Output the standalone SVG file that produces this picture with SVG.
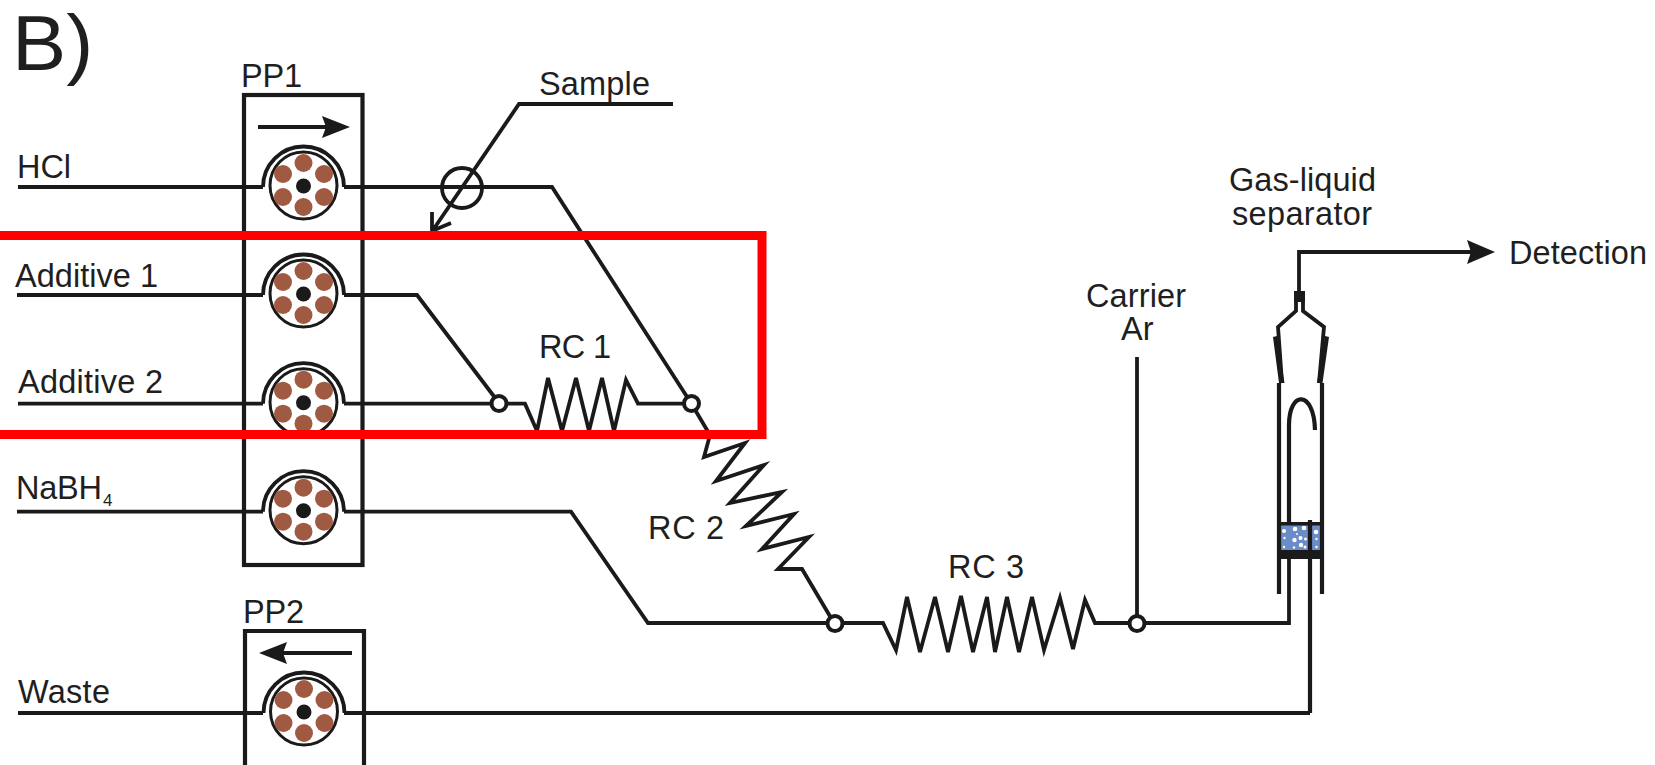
<svg xmlns="http://www.w3.org/2000/svg" xmlns:xlink="http://www.w3.org/1999/xlink" width="1655" height="765" viewBox="0 0 1655 765">
<style>
text{font-family:"Liberation Sans",Arial,sans-serif;font-size:32.500px;fill:#1f1f1f}
.ln{fill:none;stroke:#1a1a1a;stroke-width:3.800;stroke-linejoin:miter;stroke-linecap:butt}
.wall{fill:none;stroke:#1a1a1a;stroke-width:4.200}
.sq{fill:#1a1a1a}
.nd{fill:#fff;stroke:#1a1a1a;stroke-width:4}
.ro{fill:#a05a42}
.bb{fill:#fff}
</style>
<defs>
<g id="pump">
<path class="ln" d="M-40.500 0A40.500 40.500 0 0 1 40.500 0"/>
<circle cx="0" cy="-1.500" r="33.500" fill="#fff" stroke="#1a1a1a" stroke-width="3"/>
<circle class="ro" cx="0" cy="-24" r="9"/>
<circle class="ro" cx="-20.500" cy="-13" r="9"/>
<circle class="ro" cx="20.500" cy="-13" r="9"/>
<circle class="ro" cx="-20.500" cy="10" r="9"/>
<circle class="ro" cx="20.500" cy="10" r="9"/>
<circle class="ro" cx="0" cy="20" r="9"/>
<circle class="sq" cx="0" cy="-1" r="7.500"/>
</g>
</defs>
<rect width="1655" height="765" fill="#fff"/>

<g id="connectors">
<path class="ln" d="M18 187H263M344 187H552L691 403"/>
<path class="ln" d="M17 295H263M344 295H417L499 403"/>
<path class="ln" d="M18 403.700H263M344 403.700H525L537 431L548 378L562 431L576 378L589 431L602 378L614 431L626 380L638 403.700H691"/>
<path class="ln" d="M691 403L710 435L704 457L745 443L716 481L764 465L730 503L782 492L746 526L794 514L762 549L809 537L778 569H802L834 623"/>
<path class="ln" d="M17 511.700H263M344 511.700H571L648 623H883L896 650L907 597L920 652L935 597L948 652L961 596L973 652L987 597L995 652L1007 597L1019 652L1032 597L1044 650L1060 598L1073 649L1085 600L1095 623H1289V559"/>
<path class="ln" d="M1137 357V623"/>
<path class="ln" d="M18 713H263M344 713H1310"/>
<path class="ln" d="M673 104H519L433 230M432 212L432 231L451 223"/>
<circle class="ln" cx="462" cy="188" r="20"/>
<path class="ln" d="M1299 291V252H1472"/>
<path class="sq" d="M1495 252L1467 240L1471 252L1467 264Z"/>
</g>

<g id="junctions">
<circle class="nd" cx="499" cy="403.500" r="7.500"/>
<circle class="nd" cx="691.500" cy="403.500" r="7.500"/>
<circle class="nd" cx="835" cy="623.500" r="7.500"/>
<circle class="nd" cx="1137" cy="623.500" r="7.500"/>
</g>

<g id="pp1">
<rect class="wall" x="244" y="95" width="118.500" height="470"/>
<path class="ln" d="M258 127H326"/>
<path class="sq" d="M350 127L322 116L326 127L322 138Z"/>
<text x="241" y="87" textLength="61">PP1</text>
<use xlink:href="#pump" href="#pump" x="303.500" y="187"/>
<use xlink:href="#pump" href="#pump" x="303.500" y="295"/>
<use xlink:href="#pump" href="#pump" x="303.500" y="403.700"/>
<use xlink:href="#pump" href="#pump" x="303.500" y="511.700"/>
</g>

<g id="pp2">
<path class="wall" d="M245 765V631H364V765"/>
<path class="ln" d="M352 653H283"/>
<path class="sq" d="M259 653L287 642L283 653L287 664Z"/>
<text x="243" y="623" textLength="61">PP2</text>
<use xlink:href="#pump" href="#pump" x="304" y="713"/>
</g>

<g id="separator">
<rect x="1279" y="524" width="42" height="27" fill="#6a8cc8"/>
<g class="bb">
<circle cx="1284" cy="531" r="2"/><circle cx="1284.500" cy="538" r="1.200"/><circle cx="1284" cy="547" r="1.200"/>
<circle cx="1295" cy="529" r="2.300"/><circle cx="1304" cy="528" r="2.300"/><circle cx="1297" cy="534" r="1"/><circle cx="1300.500" cy="538" r="2"/><circle cx="1305.500" cy="539" r="1.500"/><circle cx="1294.500" cy="540" r="2.200"/><circle cx="1301" cy="545" r="2.200"/><circle cx="1305" cy="547" r="1.500"/><circle cx="1294" cy="547.500" r="1.200"/>
<circle cx="1316" cy="532" r="2.300"/><circle cx="1316.500" cy="539" r="1.200"/><circle cx="1316.500" cy="547" r="1.200"/>
</g>
<path class="wall" d="M1279 594V383M1322 594V383"/>
<path class="wall" d="M1289 522V425C1289 390 1314 390 1315 430M1310 520V713"/>
<rect class="sq" x="1277" y="522" width="47" height="3.500"/>
<rect class="sq" x="1277" y="550" width="47" height="9"/>
<path class="sq" d="M1294 291H1305V302H1294Z"/>
<path class="ln" d="M1296 300V311L1278 327L1282 383M1303 300V311L1324 327L1319 383"/>
<path class="sq" d="M1273 337L1277 336L1284.500 383H1279ZM1329 337L1325 336L1317 383H1322.500Z"/>
</g>

<g id="labels">
<text transform="translate(12 69.500) scale(1.070 1.020)" x="0" y="0" style="font-size:76px">B)</text>
<text x="17" y="178" textLength="54">HCl</text>
<text x="15" y="287" textLength="143">Additive 1</text>
<text x="18" y="393" textLength="145">Additive 2</text>
<text x="16" y="499" textLength="86">NaBH</text>
<text x="103" y="506" style="font-size:17px">4</text>
<text x="18" y="703" textLength="92">Waste</text>
<text x="539" y="95" textLength="111">Sample</text>
<text x="539" y="358" textLength="72">RC 1</text>
<text x="648" y="539" textLength="76">RC 2</text>
<text x="948" y="578" textLength="76">RC 3</text>
<text x="1086" y="307" textLength="100">Carrier</text>
<text x="1121" y="340">Ar</text>
<text x="1229" y="191" textLength="147">Gas-liquid</text>
<text x="1232" y="225" textLength="140">separator</text>
<text x="1509" y="264" textLength="138">Detection</text>
</g>

<path id="highlight" d="M-10 235.500H762V434.500H-10" fill="none" stroke="#ff0000" stroke-width="9"/>
</svg>
